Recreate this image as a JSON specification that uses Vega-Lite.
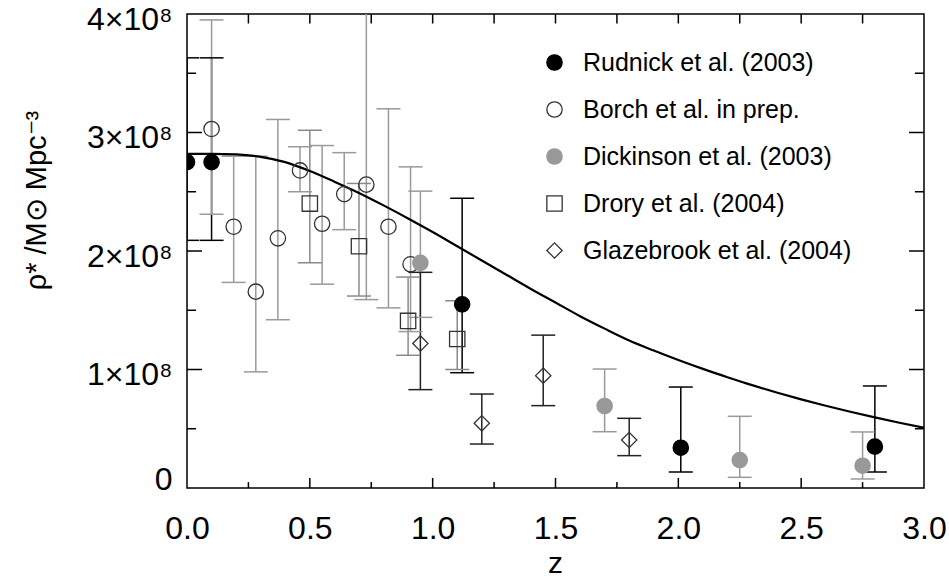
{
  "$schema": "https://vega.github.io/schema/vega-lite/v6.json",
  "width": 737,
  "height": 474,
  "autosize": {"type": "none"},
  "padding": {"left": 187, "top": 14, "right": 25, "bottom": 94},
  "background": "white",
  "config": {
    "view": {"stroke": "black", "strokeWidth": 1.5},
    "font": "Liberation Sans",
    "axis": {"domain": false, "ticks": false, "grid": false, "labelColor": "black", "titleColor": "black", "labelFont": "Liberation Sans", "titleFont": "Liberation Sans", "titleFontWeight": "normal", "labelFlush": false, "labelOverlap": false}
  },
  "datasets": {
    "obs": [
      {"source": "Rudnick et al. (2003)", "z": 0.0, "rho": 275000000, "lo": 209000000, "hi": 363000000},
      {"source": "Rudnick et al. (2003)", "z": 0.1, "rho": 275000000, "lo": 209000000, "hi": 363000000},
      {"source": "Rudnick et al. (2003)", "z": 1.12, "rho": 155000000, "lo": 97300000, "hi": 244500000},
      {"source": "Rudnick et al. (2003)", "z": 2.01, "rho": 34000000, "lo": 13500000, "hi": 85200000},
      {"source": "Rudnick et al. (2003)", "z": 2.8, "rho": 34900000, "lo": 13500000, "hi": 86100000},
      {"source": "Borch et al. in prep.", "z": 0.1, "rho": 303000000, "lo": 231000000, "hi": 395000000},
      {"source": "Borch et al. in prep.", "z": 0.19, "rho": 220500000, "lo": 173500000, "hi": 280000000},
      {"source": "Borch et al. in prep.", "z": 0.28, "rho": 165700000, "lo": 98000000, "hi": 280000000},
      {"source": "Borch et al. in prep.", "z": 0.37, "rho": 210700000, "lo": 142000000, "hi": 311000000},
      {"source": "Borch et al. in prep.", "z": 0.46, "rho": 268000000, "lo": 250000000, "hi": 288000000},
      {"source": "Borch et al. in prep.", "z": 0.55, "rho": 223000000, "lo": 172000000, "hi": 289000000},
      {"source": "Borch et al. in prep.", "z": 0.64, "rho": 248000000, "lo": 218000000, "hi": 283000000},
      {"source": "Borch et al. in prep.", "z": 0.73, "rho": 256000000, "lo": 159000000, "hi": 440000000},
      {"source": "Borch et al. in prep.", "z": 0.82, "rho": 220500000, "lo": 152000000, "hi": 320000000},
      {"source": "Borch et al. in prep.", "z": 0.91, "rho": 188800000, "lo": 132000000, "hi": 271000000},
      {"source": "Dickinson et al. (2003)", "z": 0.95, "rho": 190000000, "lo": 144000000, "hi": 250500000},
      {"source": "Dickinson et al. (2003)", "z": 1.7, "rho": 69200000, "lo": 47500000, "hi": 100400000},
      {"source": "Dickinson et al. (2003)", "z": 2.25, "rho": 23600000, "lo": 9000000, "hi": 60500000},
      {"source": "Dickinson et al. (2003)", "z": 2.75, "rho": 18800000, "lo": 7600000, "hi": 47300000},
      {"source": "Drory et al. (2004)", "z": 0.5, "rho": 240000000, "lo": 190000000, "hi": 302000000},
      {"source": "Drory et al. (2004)", "z": 0.7, "rho": 204000000, "lo": 162000000, "hi": 257000000},
      {"source": "Drory et al. (2004)", "z": 0.9, "rho": 141000000, "lo": 112000000, "hi": 178000000},
      {"source": "Drory et al. (2004)", "z": 1.1, "rho": 125700000, "lo": 100000000, "hi": 158000000},
      {"source": "Glazebrook et al. (2004)", "z": 0.95, "rho": 122000000, "lo": 83000000, "hi": 182000000},
      {"source": "Glazebrook et al. (2004)", "z": 1.2, "rho": 54600000, "lo": 37100000, "hi": 79300000},
      {"source": "Glazebrook et al. (2004)", "z": 1.45, "rho": 94800000, "lo": 69500000, "hi": 129000000},
      {"source": "Glazebrook et al. (2004)", "z": 1.8, "rho": 40500000, "lo": 27300000, "hi": 58800000}
    ],
    "model": [
      {"z": 0.0, "rho": 282000000}, {"z": 0.1, "rho": 282000000}, {"z": 0.2, "rho": 281500000},
      {"z": 0.3, "rho": 279500000}, {"z": 0.4, "rho": 275000000}, {"z": 0.5, "rho": 267500000},
      {"z": 0.6, "rho": 258500000}, {"z": 0.7, "rho": 249000000}, {"z": 0.8, "rho": 238500000},
      {"z": 0.9, "rho": 227500000}, {"z": 1.0, "rho": 216000000}, {"z": 1.1, "rho": 204000000},
      {"z": 1.2, "rho": 192000000}, {"z": 1.3, "rho": 180000000}, {"z": 1.4, "rho": 168000000},
      {"z": 1.5, "rho": 156500000}, {"z": 1.6, "rho": 145000000}, {"z": 1.7, "rho": 134500000},
      {"z": 1.8, "rho": 124500000}, {"z": 1.9, "rho": 116000000}, {"z": 2.0, "rho": 108000000},
      {"z": 2.1, "rho": 100500000}, {"z": 2.2, "rho": 93500000}, {"z": 2.3, "rho": 86800000},
      {"z": 2.4, "rho": 80600000}, {"z": 2.5, "rho": 74800000}, {"z": 2.6, "rho": 69400000},
      {"z": 2.7, "rho": 64300000}, {"z": 2.8, "rho": 59600000}, {"z": 2.9, "rho": 55100000},
      {"z": 3.0, "rho": 50800000}
    ],
    "xmajor": [{"z": 0.5}, {"z": 1}, {"z": 1.5}, {"z": 2}, {"z": 2.5}],
    "xminor": [{"z": 0.25}, {"z": 0.75}, {"z": 1.25}, {"z": 1.75}, {"z": 2.25}, {"z": 2.75}],
    "ymajor": [{"rho": 100000000}, {"rho": 200000000}, {"rho": 300000000}],
    "yminor": [{"rho": 50000000}, {"rho": 150000000}, {"rho": 250000000}, {"rho": 350000000}]
  },
  "layer": [
    {
      "data": {"name": "obs"},
      "mark": {"type": "rule", "strokeWidth": 1.5, "clip": true},
      "encoding": {
        "x": {"field": "z", "type": "quantitative", "scale": {"domain": [0, 3], "nice": false, "zero": false},
          "axis": {"orient": "bottom", "values": [0, 0.5, 1, 1.5, 2, 2.5, 3], "format": ".1f",
            "labelFontSize": 32, "labelPadding": 25, "labelBaseline": "top",
            "title": "z", "titleFontSize": 30, "titleX": 368, "titleY": 84, "titleBaseline": "alphabetic", "titleAlign": "center"}},
        "y": {"field": "lo", "type": "quantitative", "scale": {"domain": [0, 400000000], "nice": false},
          "axis": {"orient": "left", "values": [0, 100000000, 200000000, 300000000, 400000000],
            "labelExpr": "datum.value == 0 ? '0' : format(datum.value / 100000000, 'd') + '×10⁸'",
            "labelFontSize": 32, "labelPadding": 15,
            "labelBaseline": {"condition": {"test": "datum.value == 0", "value": "alphabetic"}, "value": "middle"},
            "labelOffset": {"condition": {"test": "datum.value == 0", "value": 1}, "value": 5},
            "title": "ρ* /M⊙ Mpc⁻³", "titleFontSize": 29, "titleAngle": -90, "titleX": -142, "titleY": 186, "titleBaseline": "alphabetic", "titleAlign": "center"}},
        "y2": {"field": "hi"},
        "color": {"field": "source", "type": "nominal",
          "scale": {"domain": ["Rudnick et al. (2003)", "Borch et al. in prep.", "Dickinson et al. (2003)", "Drory et al. (2004)", "Glazebrook et al. (2004)"],
            "range": ["#000000", "#9a9a9a", "#9a9a9a", "#8a8a8a", "#222222"]}, "legend": null}
      }
    },
    {
      "data": {"name": "obs"},
      "mark": {"type": "tick", "orient": "horizontal", "size": 24, "thickness": 1.5, "clip": true, "opacity": 1},
      "encoding": {
        "x": {"field": "z", "type": "quantitative"},
        "y": {"field": "lo", "type": "quantitative"},
        "color": {"field": "source", "type": "nominal",
          "scale": {"domain": ["Rudnick et al. (2003)", "Borch et al. in prep.", "Dickinson et al. (2003)", "Drory et al. (2004)", "Glazebrook et al. (2004)"],
            "range": ["#000000", "#9a9a9a", "#9a9a9a", "#8a8a8a", "#222222"]}, "legend": null}
      }
    },
    {
      "data": {"name": "obs"},
      "mark": {"type": "tick", "orient": "horizontal", "size": 24, "thickness": 1.5, "clip": true, "opacity": 1},
      "encoding": {
        "x": {"field": "z", "type": "quantitative"},
        "y": {"field": "hi", "type": "quantitative"},
        "color": {"field": "source", "type": "nominal",
          "scale": {"domain": ["Rudnick et al. (2003)", "Borch et al. in prep.", "Dickinson et al. (2003)", "Drory et al. (2004)", "Glazebrook et al. (2004)"],
            "range": ["#000000", "#9a9a9a", "#9a9a9a", "#8a8a8a", "#222222"]}, "legend": null}
      }
    },
    {
      "data": {"name": "xmajor"},
      "mark": {"type": "rule", "color": "black", "strokeWidth": 1.5},
      "encoding": {"x": {"field": "z", "type": "quantitative"}, "y": {"datum": 0}, "y2": {"datum": 8500000}}
    },
    {
      "data": {"name": "xminor"},
      "mark": {"type": "rule", "color": "black", "strokeWidth": 1.5},
      "encoding": {"x": {"field": "z", "type": "quantitative"}, "y": {"datum": 0}, "y2": {"datum": 5000000}}
    },
    {
      "data": {"name": "xmajor"},
      "mark": {"type": "rule", "color": "black", "strokeWidth": 1.5},
      "encoding": {"x": {"field": "z", "type": "quantitative"}, "y": {"datum": 400000000}, "y2": {"datum": 392000000}}
    },
    {
      "data": {"name": "xminor"},
      "mark": {"type": "rule", "color": "black", "strokeWidth": 1.5},
      "encoding": {"x": {"field": "z", "type": "quantitative"}, "y": {"datum": 400000000}, "y2": {"datum": 392000000}}
    },
    {
      "data": {"name": "ymajor"},
      "mark": {"type": "rule", "color": "black", "strokeWidth": 1.5},
      "encoding": {"y": {"field": "rho", "type": "quantitative"}, "x": {"datum": 0}, "x2": {"datum": 0.061}}
    },
    {
      "data": {"name": "yminor"},
      "mark": {"type": "rule", "color": "black", "strokeWidth": 1.5},
      "encoding": {"y": {"field": "rho", "type": "quantitative"}, "x": {"datum": 0}, "x2": {"datum": 0.037}}
    },
    {
      "data": {"name": "ymajor"},
      "mark": {"type": "rule", "color": "black", "strokeWidth": 1.5},
      "encoding": {"y": {"field": "rho", "type": "quantitative"}, "x": {"datum": 3}, "x2": {"datum": 2.939}}
    },
    {
      "data": {"name": "yminor"},
      "mark": {"type": "rule", "color": "black", "strokeWidth": 1.5},
      "encoding": {"y": {"field": "rho", "type": "quantitative"}, "x": {"datum": 3}, "x2": {"datum": 2.963}}
    },
    {
      "data": {"name": "model"},
      "mark": {"type": "line", "color": "black", "strokeWidth": 2.2, "clip": true, "interpolate": "monotone"},
      "encoding": {
        "x": {"field": "z", "type": "quantitative"},
        "y": {"field": "rho", "type": "quantitative"}
      }
    },
    {
      "data": {"name": "obs"},
      "mark": {"type": "point", "size": 235, "strokeWidth": 1.3, "opacity": 1, "clip": true},
      "encoding": {
        "x": {"field": "z", "type": "quantitative"},
        "y": {"field": "rho", "type": "quantitative"},
        "shape": {"field": "source", "type": "nominal",
          "scale": {"domain": ["Rudnick et al. (2003)", "Borch et al. in prep.", "Dickinson et al. (2003)", "Drory et al. (2004)", "Glazebrook et al. (2004)"],
            "range": ["circle", "circle", "circle", "square", "diamond"]},
          "legend": {"title": null, "orient": "none", "legendX": 355, "legendY": 36, "labelFontSize": 25, "labelFont": "Liberation Sans", "labelColor": "black", "symbolSize": 235, "symbolStrokeWidth": 1.3, "rowPadding": 21, "labelOffset": 16, "padding": 0, "labelLimit": 400}},
        "fill": {"field": "source", "type": "nominal",
          "scale": {"domain": ["Rudnick et al. (2003)", "Borch et al. in prep.", "Dickinson et al. (2003)", "Drory et al. (2004)", "Glazebrook et al. (2004)"],
            "range": ["#000000", "transparent", "#999999", "transparent", "transparent"]},
          "legend": {"title": null, "orient": "none", "legendX": 355, "legendY": 36}},
        "stroke": {"field": "source", "type": "nominal",
          "scale": {"domain": ["Rudnick et al. (2003)", "Borch et al. in prep.", "Dickinson et al. (2003)", "Drory et al. (2004)", "Glazebrook et al. (2004)"],
            "range": ["#000000", "#333333", "#999999", "#333333", "#333333"]},
          "legend": {"title": null, "orient": "none", "legendX": 355, "legendY": 36}}
      }
    }
  ],
  "resolve": {"scale": {"color": "independent"}, "legend": {"color": "independent"}}
}
